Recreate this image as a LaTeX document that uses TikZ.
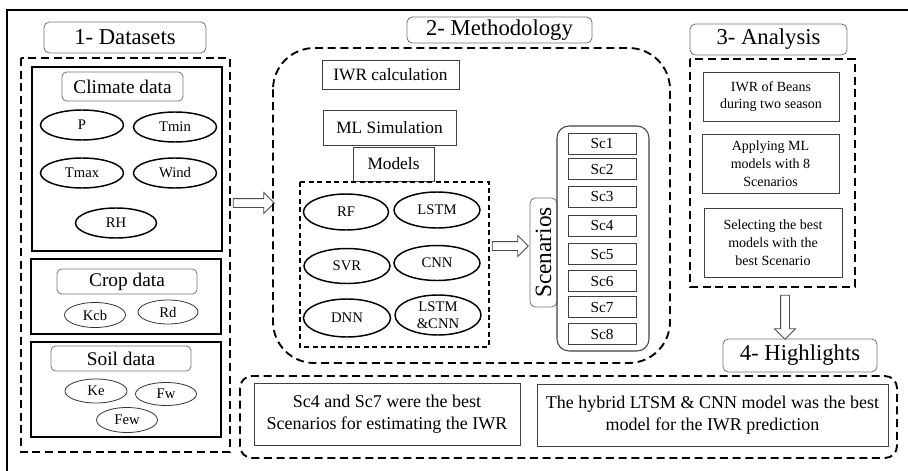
\documentclass[tikz,border=0pt]{standalone}
\usepackage{fontspec}
\setmainfont{Liberation Serif}
\usetikzlibrary{shapes.geometric,shapes.arrows}

\begin{document}
\begin{tikzpicture}[x=0.75pt,y=-0.75pt,
  sz/.style 2 args={minimum width=#1*0.75pt, minimum height=#2*0.75pt},
  hdr/.style={draw=black!55, rounded corners=4pt, line width=0.6pt, inner sep=0pt,
    font=\fontsize{17}{19}\selectfont},
  sub/.style={draw=black!55, rounded corners=3.5pt, line width=0.6pt, inner sep=0pt,
    font=\fontsize{14.5}{16}\selectfont},
  frame/.style={line width=1.2pt},
  dsh/.style={line width=1.4pt, dash pattern=on 6pt off 3.5pt},
  oval/.style={draw, ellipse, line width=1.1pt, inner sep=0pt, align=center,
    font=\fontsize{11}{12.5}\selectfont},
  thinoval/.style={draw=black!80, ellipse, line width=0.6pt, inner sep=0pt,
    font=\fontsize{11}{12}\selectfont},
  tbox/.style={draw=black!75, line width=0.7pt, inner sep=0pt,
    font=\fontsize{13}{15}\selectfont},
  sc/.style={draw=black!75, line width=0.7pt, inner sep=0pt, sz={68}{21},
    font=\fontsize{11.5}{12}\selectfont},
  ana/.style={draw=black!75, line width=0.7pt, inner sep=0pt, align=center,
    font=\fontsize{10.5}{13.3}\selectfont},
  hl/.style={draw=black!75, line width=0.7pt, inner sep=0pt, align=center,
    font=\fontsize{13.5}{16.5}\selectfont},
  blockarr/.style={draw=black!70, fill=white, single arrow, line width=0.6pt,
    inner sep=3pt, single arrow head extend=4.5pt}]
  \useasboundingbox (0,0) rectangle (908,471);
  \draw[line width=1.5pt] (7,480) -- (7,10) -- (915,10);

  % 1- Datasets
  \node[hdr, sz={162}{31}] (dsHead) at (125,37.5) {1- Datasets};
  \draw[dsh] (21,58) rectangle (230,452);
  \draw[frame] (32,67) rectangle (222,251);
  \draw[frame] (31,259) rectangle (221,334);
  \draw[frame] (31,342) rectangle (221,437);
  \node[sub, sz={121}{29}] (climate) at (122.5,86.5) {Climate data};
  \node[oval, sz={83}{30}] (P) at (82,125) {P};
  \node[oval, sz={83}{30}] (Tmin) at (175,127) {Tmin};
  \node[oval, sz={83}{30}] (Tmax) at (82,173) {Tmax};
  \node[oval, sz={83}{30}] (Wind) at (175,173) {Wind};
  \node[oval, sz={81}{30}] (RH) at (116,223) {RH};
  \node[sub, sz={140}{25}] (crop) at (127,281.5) {Crop data};
  \node[thinoval, sz={61}{25}] (Kcb) at (95,315) {Kcb};
  \node[thinoval, sz={60}{24}] (Rd) at (168,312) {Rd};
  \node[sub, sz={140}{25}] (soil) at (121,358.5) {Soil data};
  \node[thinoval, sz={62}{24}] (Ke) at (96,391) {Ke};
  \node[thinoval, sz={61}{23}] (Fw) at (166,394) {Fw};
  \node[thinoval, sz={61}{25}] (Few) at (127,420) {Few};

  \node[blockarr, minimum height=30.75pt] (toMethod) at (251.5,203) {};

  % 2- Methodology
  \node[hdr, sz={185}{26}] (methHead) at (499.5,30) {2- Methodology};
  \draw[dsh, rounded corners=31pt] (273,48) rectangle (670,363);
  \node[tbox, sz={137}{29}] (iwr) at (390.5,74.5) {IWR calculation};
  \node[tbox, sz={133}{35}] (mlsim) at (389.5,127.5) {ML Simulation};
  \node[tbox, sz={81}{34}] (models) at (393.5,164) {Models};
  \draw[line width=1.2pt, dash pattern=on 3.75pt off 2.6pt] (300,182) rectangle (489,347);
  \node[oval, sz={85}{36}] (RF) at (346,212) {RF};
  \node[oval, sz={86}{36}] (LSTM) at (437,210) {LSTM};
  \node[oval, sz={86}{35}] (SVR) at (347,266) {SVR};
  \node[oval, sz={86}{35}] (CNN) at (437,263) {CNN};
  \node[oval, sz={87}{38}] (DNN) at (347,318) {DNN};
  \node[oval, sz={86}{40}] (hybrid) at (438,315) {LSTM\\\&CNN};

  \node[blockarr, minimum height=27pt] (toScen) at (508,246) {};

  \node[sub, rounded corners=4pt, sz={109}{27}, rotate=90,
    font=\fontsize{17.5}{19}\selectfont] (scen) at (543.5,252.5) {Scenarios};
  \draw[draw=black!75, line width=0.8pt, rounded corners=9pt] (557,126) rectangle (649,351);
  \node[sc] (sc1) at (602,143.5) {Sc1};
  \node[sc] (sc2) at (602,169) {Sc2};
  \node[sc] (sc3) at (602,196.5) {Sc3};
  \node[sc] (sc4) at (602,225.5) {Sc4};
  \node[sc] (sc5) at (602,254) {Sc5};
  \node[sc] (sc6) at (602,281) {Sc6};
  \node[sc] (sc7) at (602,307) {Sc7};
  \node[sc] (sc8) at (602,334) {Sc8};

  % 3- Analysis
  \node[hdr, sz={157}{31}] (anaHead) at (768.5,39.5) {3- Analysis};
  \draw[dsh] (690,59) rectangle (855,287);
  \node[ana, sz={136}{49}] (beans) at (771,96.5) {IWR of Beans\\during two season};
  \node[ana, sz={137}{59}] (apply) at (770.5,163.5) {Applying ML\\models with 8\\Scenarios};
  \node[ana, sz={138}{69}] (select) at (773,242.5) {Selecting the best\\models with the\\best Scenario};

  \node[blockarr, minimum height=33pt, shape border rotate=270] (toHigh) at (785,315) {};

  % 4- Highlights
  \node[hdr, sz={154}{33}] (hlHead) at (800,355.5) {4- Highlights};
  \draw[dsh, rounded corners=9pt] (240,376) rectangle (897,458);
  \node[hl, sz={266}{62}] (best) at (387,414) {Sc4 and Sc7 were the best\\Scenarios for estimating the IWR};
  \node[hl, sz={351}{62}] (hyb) at (712.5,415) {The hybrid LTSM \& CNN model was the best\\model for the IWR prediction};
\end{tikzpicture}
\end{document}
